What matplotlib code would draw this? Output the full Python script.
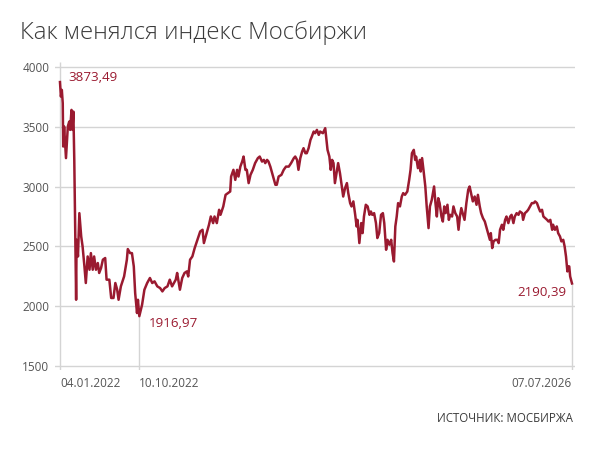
import matplotlib
matplotlib.use('Agg')
import matplotlib.pyplot as plt
import matplotlib.transforms as mtransforms

# trading-day index since 04.01.2022 and MOEX index value
day = [0, 2, 4, 6, 7, 9, 13, 17, 20, 22, 25, 27, 29, 31, 35, 36, 39, 42, 46, 49, 53, 56, 60, 64, 67, 71, 74,
       78, 82, 85, 89, 93, 98, 101, 107, 111, 116, 120, 124, 127, 132, 139, 145, 147, 152, 156, 160, 163,
       167, 169, 172, 178, 183,
       189, 195, 200, 205, 211, 217, 222, 227, 233, 238, 243, 251, 254, 260, 265, 270, 275, 278, 282, 287,
       292, 298, 304, 309, 312, 318, 323, 327, 332, 335, 340, 345, 348, 354, 359, 364, 369, 371, 376,
       380, 384, 387, 391, 395, 398, 402, 405, 409, 413, 418, 423, 429, 433, 438, 442, 445, 449, 452, 456,
       460, 463, 467, 470, 474, 480, 485, 490, 496, 501, 507, 510, 514, 517, 521, 525, 528, 532, 535, 539,
       543, 546, 550, 553, 557, 561, 564,
       570, 575, 577, 580, 584, 587, 590, 593, 596, 600, 603, 607, 611, 614, 618, 622, 625, 629, 632, 636,
       640, 643, 645, 649, 653, 656, 659, 663, 667, 671, 674, 677, 681, 685, 688, 692, 696, 700, 703, 707,
       710, 714, 718, 721, 724, 727, 730, 733, 737, 741, 744, 748, 753, 757,
       760, 763, 767, 770, 772, 776, 780, 782, 785, 788, 792, 795, 799, 802, 806, 811, 814, 817, 820, 823,
       827, 830, 833, 836, 840, 843, 846, 850, 853, 857, 861, 864, 867, 870, 874, 877, 881, 885, 888, 892,
       895, 899, 903, 906, 910, 913, 917, 921, 924, 928, 932, 934, 937, 940, 944, 948,
       951, 954, 958, 961, 965, 968, 972, 976, 979, 983, 986, 990, 994, 997, 1002, 1004, 1008, 1012, 1015,
       1019, 1023, 1027, 1030, 1034, 1038, 1041, 1045, 1048, 1052, 1056, 1059, 1063, 1067, 1069, 1073,
       1077, 1080, 1084, 1087, 1091, 1094, 1097, 1100, 1102, 1104, 1106, 1110]

moex = [3873.49, 3752, 3808, 3697, 3335, 3502, 3238, 3502, 3543, 3474, 3641, 3474, 3627, 3223, 2054, 2555,
        2416, 2778, 2583, 2500, 2333, 2194, 2416, 2305, 2444, 2305, 2416, 2305, 2361, 2278, 2319, 2389,
        2403, 2222, 2222, 2069, 2069, 2194, 2138, 2054, 2166, 2249, 2389, 2478, 2444, 2444, 2333, 2110,
        1943, 2054, 1916.97, 2013, 2138,
        2194, 2236, 2194, 2208, 2166, 2152, 2124, 2152, 2166, 2222, 2166, 2222, 2278, 2138, 2236, 2278,
        2291, 2249, 2389, 2416, 2486, 2555, 2625, 2639, 2528, 2611, 2681, 2750, 2695, 2750, 2695, 2806,
        2764, 2834, 2931, 2945, 2959, 3084, 3140,
        3056, 3140, 3084, 3167, 3209, 3251, 3140, 3140, 3029, 3098, 3140, 3196, 3238, 3251, 3209, 3223,
        3196, 3223, 3209, 3167, 3112, 3070, 3015, 3015, 3084, 3098, 3140, 3167, 3167, 3196, 3238, 3251,
        3223, 3140, 3238, 3293, 3321, 3279, 3279, 3321, 3390, 3418, 3460, 3446, 3474, 3432, 3460,
        3446, 3488, 3418, 3307, 3251, 3140, 3223, 3196, 3029, 3126, 3196, 3112, 3001, 2917, 2987, 3029,
        2945, 2862, 2834, 2876, 2764, 2667, 2722, 2528, 2695, 2611, 2750, 2848, 2834, 2764, 2792, 2764,
        2778, 2695, 2570, 2611, 2764, 2778, 2695, 2472, 2555, 2514, 2555, 2444, 2374, 2667, 2750, 2862,
        2834, 2917, 2945, 2931, 2959, 3056,
        3140, 3279, 3307, 3223, 3251, 3154, 3223, 3126, 3238, 3140, 3001, 2834, 2653, 2834, 2889, 3001,
        2862, 2750, 2903, 2862, 2750, 2708, 2834, 2778, 2848, 2722, 2764, 2750, 2834, 2778, 2750, 2639,
        2750, 2820, 2764, 2722, 2862, 2973, 3001, 2931, 2876, 2917, 2848, 2931, 2834, 2778, 2736, 2708,
        2667, 2611, 2555, 2611, 2486, 2542, 2555, 2555,
        2528, 2639, 2681, 2639, 2722, 2750, 2695, 2750, 2764, 2695, 2750, 2778, 2764, 2792, 2778, 2722,
        2778, 2792, 2806, 2834, 2862, 2862, 2876, 2862, 2820, 2792, 2806, 2750, 2736, 2722, 2708, 2722,
        2639, 2681, 2639, 2667, 2611, 2583, 2542, 2555, 2500, 2416, 2291, 2333, 2333, 2249, 2190.39]

tick_days = [0, 172, 1110]
tick_labels = ['04.01.2022', '10.10.2022', '07.07.2026']
y_ticks = [1500, 2000, 2500, 3000, 3500, 4000]

red = '#9a1a30'
grid = '#d4d4d4'
plt.rcParams['font.family'] = ['Open Sans', 'DejaVu Sans']

fig = plt.figure(figsize=(6, 4.5), dpi=100)
ax = fig.add_axes([55 / 600, 80 / 450, 520 / 600, 310 / 450])
ax.set_xlim(-10.8, 1116.5)
ax.set_ylim(1467, 4058)

for v in y_ticks:
    ax.axhline(v, color=grid, lw=1, zorder=1)

ax.vlines(0, 1467, 4040, color=grid, lw=1, zorder=1)
i_min = moex.index(min(moex))
ax.vlines(day[i_min], 1467, moex[i_min], color=grid, lw=1, zorder=1)
ax.vlines(day[-1], 1467, moex[-1], color=grid, lw=1, zorder=1)

ax.plot(day, moex, color=red, lw=1.8, zorder=3, solid_joinstyle='round')

ax.annotate('3873,49', xy=(day[0], moex[0]), xytext=(5.8, 3), textcoords='offset points',
            color=red, fontsize=9.6, ha='left', va='center')
ax.annotate('1916,97', xy=(day[i_min], moex[i_min]), xytext=(7, -5.5), textcoords='offset points',
            color=red, fontsize=9.6, ha='left', va='center')
ax.annotate('2190,39', xy=(day[-1], moex[-1]), xytext=(-4.3, -6.8), textcoords='offset points',
            color=red, fontsize=9.6, ha='right', va='center')

ax.set_yticks(y_ticks)
ax.set_yticklabels([str(v) for v in y_ticks], fontsize=8.5, color='#555555')
ax.set_xticks(tick_days)
ax.set_xticklabels(tick_labels, fontsize=8.5, color='#555555')
shift = mtransforms.ScaledTranslation(-3 / 72, 0, fig.dpi_scale_trans)
for lab, ha in zip(ax.get_xticklabels(), ['left', 'left', 'right']):
    lab.set_ha(ha)
    if ha == 'left':
        lab.set_transform(lab.get_transform() + shift)
ax.tick_params(axis='both', length=0)
ax.tick_params(axis='y', pad=4)
ax.tick_params(axis='x', pad=5)
for s in ax.spines.values():
    s.set_visible(False)

fig.text(20 / 600, 1 - 33 / 450, 'Как менялся индекс Мосбиржи', fontsize=17.3, fontweight='light',
         color='#3a3a3a', ha='left', va='center')
fig.text(573 / 600, 1 - 419 / 450, 'ИСТОЧНИК: МОСБИРЖА', fontsize=8.3, color='#3a3a3a',
         ha='right', va='center')

fig.savefig('out.png', dpi=100)
